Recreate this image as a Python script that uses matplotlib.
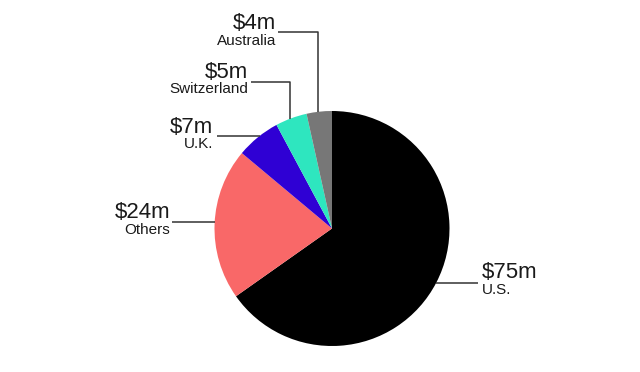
import numpy as np
import matplotlib
matplotlib.use("Agg")
import matplotlib.pyplot as plt

plt.rcParams['font.family'] = ['Liberation Sans', 'DejaVu Sans']

# Data
countries = ["U.S.", "Others", "U.K.", "Switzerland", "Australia"]
values = [75, 24, 7, 5, 4]
value_labels = ["$75m", "$24m", "$7m", "$5m", "$4m"]
colors = ["#000000", "#f96868", "#2f00d4", "#2ee6bf", "#777777"]

W, H = 640, 372
fig = plt.figure(figsize=(W / 100, H / 100), dpi=100)
ax = fig.add_axes([0, 0, 1, 1])

cx, cy_px, r = 332, 228.5, 117.5
cy = H - cy_px
ax.pie(values, colors=colors, startangle=90, counterclock=False,
       center=(cx, cy), radius=r, frame=True,
       wedgeprops=dict(linewidth=0))
ax.set_xlim(0, W)
ax.set_ylim(0, H)
ax.set_aspect("equal")
ax.axis("off")

line_kw = dict(color="#333333", lw=1.1, solid_capstyle="butt")
txt_color = "#1a1a1a"

def y(p):
    return H - p

# Label layout: text anchor x, value baseline y, name baseline y (pixels from top)
layout = {
    "Australia": dict(tx=276, vy=29, ny=45, ha="right", leader=("v", 318, 32, 278)),
    "Switzerland": dict(tx=248, vy=78, ny=93, ha="right", leader=("v", 290, 82, 251)),
    "U.K.": dict(tx=213, vy=133, ny=148, ha="right", leader=("h", 136, 217)),
    "Others": dict(tx=170, vy=218, ny=234, ha="right", leader=("h", 222, 172)),
    "U.S.": dict(tx=482, vy=278, ny=294, ha="left", leader=("h", 283, 478)),
}

for name, vlab in zip(countries, value_labels):
    L = layout[name]
    ax.text(L["tx"], y(L["vy"]), vlab, ha=L["ha"], va="baseline",
            fontsize=16, color=txt_color)
    ax.text(L["tx"], y(L["ny"]), name, ha=L["ha"], va="baseline",
            fontsize=11, color=txt_color)
    ld = L["leader"]
    if ld[0] == "v":
        xv, yh, xs = ld[1], ld[2], ld[3]
        yend = cy + np.sqrt(r ** 2 - (xv - cx) ** 2)
        ax.plot([xs, xv, xv], [y(yh), y(yh), yend], **line_kw)
    else:
        yh, xs = ld[1], ld[2]
        dx = np.sqrt(r ** 2 - (y(yh) - cy) ** 2)
        xend = cx - dx if xs < cx else cx + dx
        ax.plot([xs, xend], [y(yh), y(yh)], **line_kw)

fig.savefig("out.png", dpi=100, facecolor="white")
